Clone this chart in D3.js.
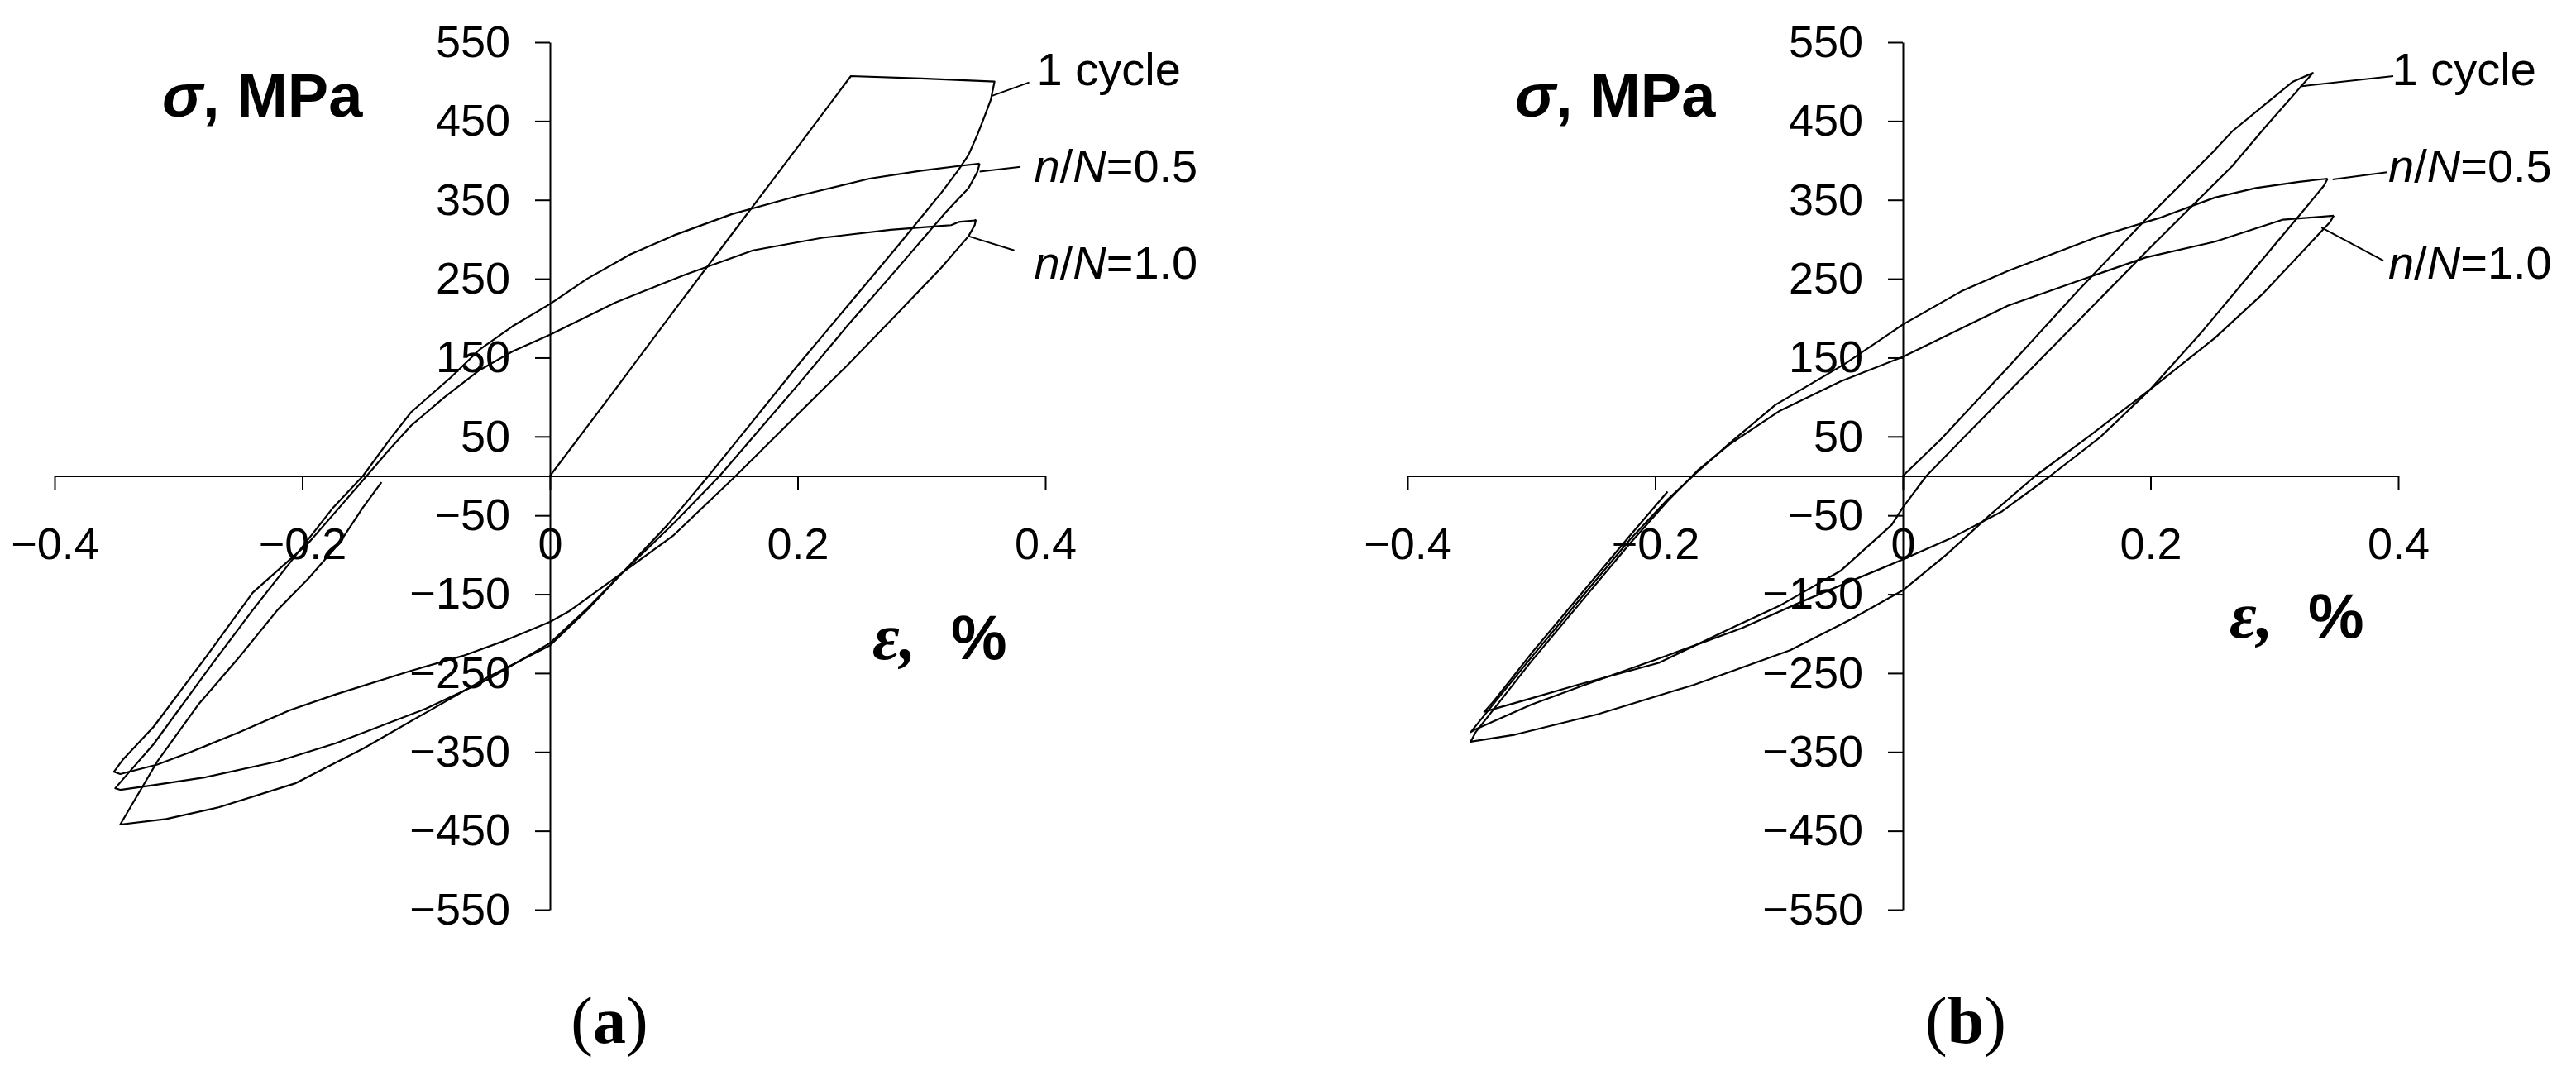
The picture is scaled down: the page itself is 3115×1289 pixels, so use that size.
<!DOCTYPE html>
<html>
<head>
<meta charset="utf-8">
<script src="https://cdn.jsdelivr.net/npm/d3@7"></script>
<style>
  html, body { margin: 0; padding: 0; background: #fff; }
  svg { display: block; }
  text { fill: #000; }
</style>
</head>
<body>
<svg id="chart" width="3115" height="1289"></svg>
<script>
// ---------- data ----------
const strainTicks = [-0.4, -0.2, 0, 0.2, 0.4];
const stressTicks = [550, 450, 350, 250, 150, 50, -50, -150, -250, -350, -450, -550];
const loopLabels = ["1 cycle", "n/N=0.5", "n/N=1.0"];
const panelCaptions = ["a", "b"];

// Panel (a) hysteresis loops  [strain %, stress MPa]
const aCycle1 = [
  [0,0],[0.05,104],[0.10,209],[0.15,313],[0.20,417],[0.243,507],[0.30,504],[0.359,500],
  [0.356,477],[0.351,456],[0.345,432],[0.338,407],[0.329,386],[0.316,359],[0.28,290],[0.24,215],
  [0.20,140],[0.16,62],[0.128,0],[0.095,-62],[0.059,-122],[0.03,-170],[0,-215],
  [-0.05,-255],[-0.10,-300],[-0.15,-345],[-0.206,-390],[-0.267,-420],[-0.31,-435],[-0.347,-442],
  [-0.335,-410],[-0.317,-362],[-0.284,-290],[-0.25,-228],[-0.22,-170],[-0.195,-130],[-0.17,-85],
  [-0.151,-40],[-0.136,-8]
];
const aHalf = [
  [0.347,396],[0.345,385],[0.338,365],[0.32,335],[0.28,262],[0.24,190],[0.20,115],[0.16,42],
  [0.137,0],[0.10,-60],[0.059,-122],[0.03,-168],[0,-212],
  [-0.05,-258],[-0.10,-295],[-0.173,-339],[-0.22,-362],[-0.278,-382],[-0.32,-392],[-0.347,-398],
  [-0.351,-396],[-0.345,-385],[-0.32,-340],[-0.273,-239],[-0.24,-170],[-0.20,-90],[-0.175,-40],[-0.151,0],
  [-0.13,45],[-0.112,81],[-0.08,125],[-0.057,160],[-0.03,190],[0,218],[0.03,250],[0.065,281],
  [0.10,305],[0.147,332],[0.20,355],[0.258,377],[0.30,387],[0.33,393],[0.347,396]
];
const aFull = [
  [0.344,325],[0.343,318],[0.338,304],[0.316,264],[0.28,205],[0.24,140],[0.20,78],[0.15,0],
  [0.10,-75],[0.059,-122],[0.03,-155],[0.015,-172],[0,-185],
  [-0.035,-208],[-0.07,-228],[-0.112,-247],[-0.173,-277],[-0.21,-297],[-0.251,-325],[-0.29,-350],
  [-0.317,-366],[-0.347,-378],
  [-0.352,-375],[-0.345,-360],[-0.32,-318],[-0.277,-228],[-0.24,-148],[-0.195,-85],[-0.17,-40],[-0.148,0],
  [-0.13,33],[-0.112,64],[-0.085,100],[-0.057,134],[-0.03,158],[0,179],[0.053,220],[0.109,255],
  [0.164,286],[0.22,302],[0.275,312],[0.316,317],[0.324,318],[0.33,322],[0.343,324],[0.344,325]
];

// Panel (b) hysteresis loops
const bCycle1 = [
  [0,0],[0.031,47],[0.085,138],[0.141,234],[0.196,325],[0.25,410],[0.266,437],[0.297,477],
  [0.315,500],[0.331,511],
  [0.321,493],[0.293,443],[0.266,393],[0.20,290],[0.15,210],[0.10,130],[0.05,50],[0.019,0],
  [0,-40],[-0.009,-62],
  [-0.05,-120],[-0.10,-165],[-0.136,-191],[-0.197,-237],[-0.263,-265],[-0.30,-282],[-0.338,-299],
  [-0.33,-285],[-0.30,-225],[-0.26,-150],[-0.22,-75],[-0.19,-20]
];
const bHalf = [
  [0.343,377],[0.34,368],[0.32,330],[0.28,255],[0.24,180],[0.20,110],[0.16,50],[0.119,0],
  [0.08,-45],[0.04,-78],[0,-106],
  [-0.04,-132],[-0.081,-159],[-0.13,-193],[-0.191,-228],[-0.257,-265],[-0.30,-290],[-0.346,-322],
  [-0.349,-325],[-0.33,-288],[-0.30,-230],[-0.26,-155],[-0.22,-80],[-0.19,-30],[-0.166,5],
  [-0.141,40],[-0.103,90],[-0.047,142],[0,192],[0.047,234],[0.085,260],[0.157,303],[0.207,327],
  [0.252,353],[0.285,365],[0.32,373],[0.343,377]
];
const bFull = [
  [0.348,330],[0.345,322],[0.32,280],[0.29,230],[0.252,175],[0.20,110],[0.15,50],[0.107,0],
  [0.07,-50],[0.035,-100],[0,-145],
  [-0.042,-182],[-0.091,-221],[-0.169,-265],[-0.246,-302],[-0.313,-328],[-0.349,-337],
  [-0.345,-325],[-0.33,-295],[-0.30,-235],[-0.26,-160],[-0.22,-85],[-0.19,-32],[-0.165,8],
  [-0.14,40],[-0.10,82],[-0.05,120],[0,151],[0.085,216],[0.141,247],[0.196,277],[0.252,297],
  [0.307,325],[0.348,330]
];

// label anchor positions (data units): [leader start, leader end, text position]
const aLabelPos = [
  [[0.357,482],[0.387,499],[0.393,495]],
  [[0.347,386],[0.380,392],[0.391,373]],
  [[0.338,304],[0.375,286],[0.391,250]]
];
const bLabelPos = [
  [[0.321,494],[0.396,507],[0.395,495]],
  [[0.347,376],[0.391,385],[0.392,373]],
  [[0.338,315],[0.388,273],[0.392,250]]
];

// ---------- drawing ----------
const svg = d3.select("#chart");
const SANS = "'Liberation Sans', Arial, sans-serif";
const SERIF = "'Liberation Serif', 'Times New Roman', serif";

function panel(cfg) {
  const x = d3.scaleLinear().domain([-0.4, 0.4]).range(cfg.xRange);
  const y = d3.scaleLinear().domain([-550, 550]).range([1100, 51]);
  const g = svg.append("g");

  // loops
  const line = d3.line().x(d => x(d[0])).y(d => y(d[1]));
  g.selectAll("path.loop").data(cfg.loops).join("path")
    .attr("class", "loop")
    .attr("d", line)
    .attr("fill", "none").attr("stroke", "#000")
    .attr("stroke-width", 2.2).attr("stroke-linejoin", "round");

  // x axis at stress 0
  const xAxis = d3.axisBottom(x).tickValues(strainTicks)
    .tickFormat(d => d === 0 ? "0" : d3.format(".1f")(d))
    .tickSize(17).tickSizeOuter(0).tickPadding(45);
  const gx = g.append("g").attr("transform", `translate(0,${y(0)})`).call(xAxis);

  // y axis at strain 0
  const yAxis = d3.axisLeft(y).tickValues(stressTicks)
    .tickFormat(d3.format("d"))
    .tickSize(18).tickSizeOuter(0).tickPadding(30);
  const gy = g.append("g").attr("transform", `translate(${x(0)},0)`).call(yAxis);

  [gx, gy].forEach(a => {
    a.select(".domain").attr("stroke", "#000").attr("stroke-width", 2);
    a.selectAll(".tick line").attr("stroke", "#000").attr("stroke-width", 2);
    a.selectAll(".tick text").attr("font-family", SANS).attr("font-size", 54).attr("fill", "#000");
  });

  // leader lines and loop labels
  cfg.labelPos.forEach((p, i) => {
    g.append("line")
      .attr("x1", x(p[0][0])).attr("y1", y(p[0][1]))
      .attr("x2", x(p[1][0])).attr("y2", y(p[1][1]))
      .attr("stroke", "#000").attr("stroke-width", 2);
    const t = g.append("text").attr("x", x(p[2][0])).attr("y", y(p[2][1]))
      .attr("font-family", SANS).attr("font-size", 56);
    const lab = loopLabels[i];
    if (lab.startsWith("n/N")) {
      t.append("tspan").attr("font-style", "italic").text("n");
      t.append("tspan").text("/");
      t.append("tspan").attr("font-style", "italic").text("N");
      t.append("tspan").text(lab.slice(3));
    } else {
      t.text(lab);
    }
  });

  // y-axis title
  const ty = g.append("text").attr("x", x(0) - 469).attr("y", 141)
    .attr("font-family", SANS).attr("font-size", 74).attr("font-weight", "bold");
  ty.append("tspan").attr("font-style", "italic").text("σ");
  ty.append("tspan").text(", MPa");

  // x-axis title
  const tx = g.append("text").attr("x", x(0) + cfg.epsDx).attr("y", cfg.epsY)
    .attr("font-weight", "bold").attr("xml:space", "preserve").style("white-space", "pre");
  tx.append("tspan").attr("font-family", SERIF).attr("font-style", "italic").attr("font-size", 80).text("ε,");
  tx.append("tspan").attr("font-family", SANS).attr("font-size", 76).text("  %");

  // caption
  const c = g.append("text").attr("x", cfg.capX).attr("y", 1261)
    .attr("text-anchor", "middle").attr("font-family", SERIF).attr("font-size", 80);
  c.append("tspan").text("(");
  c.append("tspan").attr("font-weight", "bold").text(cfg.caption);
  c.append("tspan").text(")");
}

panel({ xRange: [66, 1264], loops: [aCycle1, aHalf, aFull], labelPos: aLabelPos,
        epsDx: 390, epsY: 797, capX: 737, caption: panelCaptions[0] });
panel({ xRange: [1702, 2900], loops: [bCycle1, bHalf, bFull], labelPos: bLabelPos,
        epsDx: 395, epsY: 771, capX: 2377, caption: panelCaptions[1] });
</script>
</body>
</html>
